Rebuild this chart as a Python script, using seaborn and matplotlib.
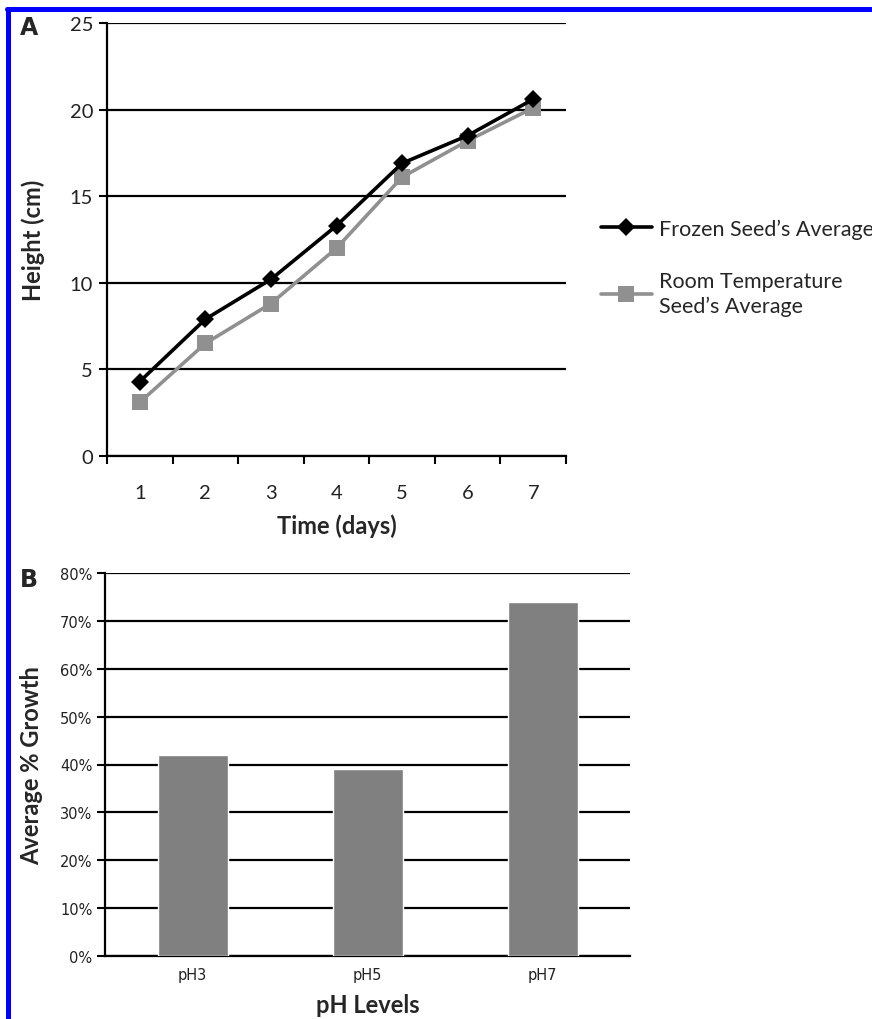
import matplotlib
matplotlib.use("Agg")
import matplotlib.pyplot as plt
import seaborn as sns
import pandas as pd
from matplotlib.lines import Line2D
from matplotlib.ticker import FixedLocator, PercentFormatter

# ---- data ----
days = [1, 2, 3, 4, 5, 6, 7]
frozen_avg = [4.3, 7.9, 10.2, 13.3, 16.9, 18.5, 20.6]
room_avg = [3.1, 6.5, 8.8, 12.0, 16.1, 18.2, 20.1]
series_names = ["Frozen Seed\u2019s Average", "Room Temperature\nSeed\u2019s Average"]

ph_levels = ["pH3", "pH5", "pH7"]
growth_pct = [42, 39, 74]

sns.set_theme(style="white")
plt.rcParams["font.family"] = ["Lato", "DejaVu Sans"]

W, H = 872, 1020
fig = plt.figure(figsize=(W / 100, H / 100), dpi=100)

def fx(px):
    return px / W

def fy(py):
    return 1 - py / H

# ---- Panel A ----
axA = fig.add_axes([fx(107), fy(457), fx(566) - fx(107), fy(24) - fy(457)])
dfA = pd.DataFrame({"day": days * 2,
                    "height": frozen_avg + room_avg,
                    "series": [series_names[0]] * 7 + [series_names[1]] * 7})
sns.lineplot(data=dfA[dfA.series == series_names[1]], x="day", y="height", ax=axA,
             color="#909090", lw=2.6, marker="s", markersize=11, markeredgewidth=0,
             label=series_names[1], zorder=3)
sns.lineplot(data=dfA[dfA.series == series_names[0]], x="day", y="height", ax=axA,
             color="black", lw=2.6, marker="D", markersize=9, markeredgewidth=0,
             label=series_names[0], zorder=4)
axA.set_xlim(0.5, 7.5)
axA.set_ylim(0, 25)
axA.set_yticks([0, 5, 10, 15, 20, 25])
axA.set_xticks(days)
axA.set_xticklabels([str(d) for d in days])
axA.xaxis.set_minor_locator(FixedLocator([0.5 + i for i in range(8)]))
axA.tick_params(axis="x", which="major", length=0, pad=20, labelsize=14.5)
axA.tick_params(axis="x", which="minor", length=6, width=1.5, color="black", direction="out", bottom=True)
axA.tick_params(axis="y", length=6, width=1.5, color="black", direction="out", left=True, labelsize=14.5, pad=4)
for t in axA.get_xticklabels() + axA.get_yticklabels():
    t.set_color("#222222")
axA.grid(axis="y", color="black", lw=1.6)
axA.set_axisbelow(True)
for s in ["top", "right"]:
    axA.spines[s].set_visible(False)
for s in ["left", "bottom"]:
    axA.spines[s].set_color("black")
    axA.spines[s].set_linewidth(1.6)
axA.set_xlabel("Time (days)", fontsize=17, fontweight="bold", labelpad=9)
axA.set_ylabel("Height (cm)", fontsize=17, fontweight="bold", labelpad=18)
handles, labels = axA.get_legend_handles_labels()
order = [labels.index(series_names[0]), labels.index(series_names[1])]
axA.legend([handles[i] for i in order], [labels[i] for i in order],
           loc="upper left", bbox_to_anchor=(fx(592), fy(211)), bbox_transform=fig.transFigure,
           frameon=False, fontsize=15.5, handlelength=2.4, handletextpad=0.3,
           labelspacing=1.5, borderaxespad=0)
for t in axA.get_legend().get_texts():
    t.set_linespacing(1.25)
fig.text(fx(20), fy(28), "A", fontsize=17, fontweight="bold", family="DejaVu Sans",
         ha="left", va="center")

# ---- Panel B ----
axB = fig.add_axes([fx(105), fy(957), fx(630) - fx(105), fy(574) - fy(957)])
dfB = pd.DataFrame({"ph": ph_levels, "growth": growth_pct})
sns.barplot(data=dfB, x="ph", y="growth", ax=axB, color="#808080", width=0.4,
            saturation=1, zorder=3)
axB.set_ylim(0, 80)
axB.set_yticks(range(0, 81, 10))
axB.yaxis.set_major_formatter(PercentFormatter(decimals=0))
axB.tick_params(axis="y", length=6, width=1.5, color="black", direction="out", left=True,
                labelsize=10.5, pad=3)
axB.tick_params(axis="x", length=0, labelsize=10.5, pad=8)
for t in axB.get_xticklabels() + axB.get_yticklabels():
    t.set_family("DejaVu Sans")
    t.set_color("#222222")
axB.grid(axis="y", color="black", lw=1.6, zorder=0)
axB.set_axisbelow(True)
for s in ["top", "right"]:
    axB.spines[s].set_visible(False)
for s in ["left", "bottom"]:
    axB.spines[s].set_color("black")
    axB.spines[s].set_linewidth(1.6)
axB.set_xlabel("pH Levels", fontsize=17, fontweight="bold", labelpad=8)
axB.set_ylabel("Average % Growth", fontsize=17, fontweight="bold", labelpad=12)
fig.text(fx(20), fy(580), "B", fontsize=17, fontweight="bold", family="DejaVu Sans",
         ha="left", va="center")

# ---- blue frame (top and left) ----
fig.add_artist(Line2D([fx(7), 1], [fy(9.5), fy(9.5)], color="#0000ff", lw=3.6,
                      transform=fig.transFigure))
fig.add_artist(Line2D([fx(7.5), fx(7.5)], [0, fy(9.5)], color="#0000ff", lw=3.6,
                      transform=fig.transFigure))

fig.savefig("out.png", dpi=100, facecolor="white")
